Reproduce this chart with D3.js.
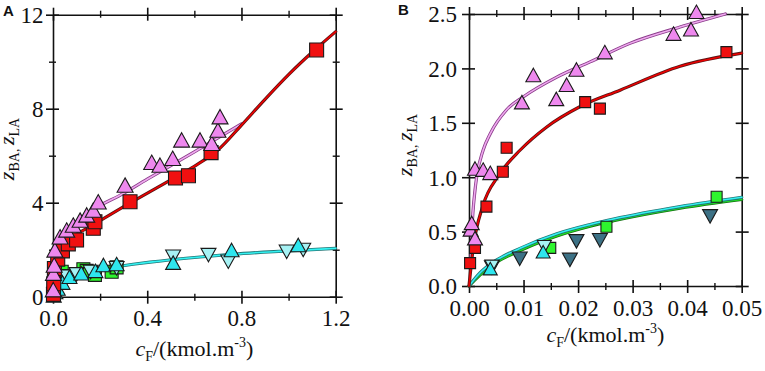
<!DOCTYPE html>
<html>
<head>
<meta charset="utf-8">
<script src="https://cdn.jsdelivr.net/npm/d3@7"></script>
</head>
<body style="margin:0">
<div id="chart"></div>
<script>
// ---------- panel A data (x = cF kmol/m3, y = z) ----------
const aRedSq = [[0.002,0.1],[0.003,0.55],[0.006,1.2],[0.02,1.6],[0.04,1.95],[0.065,2.25],[0.1,2.41],
  [0.171,2.91],[0.178,3.19],[0.327,4.04],[0.52,5.05],[0.575,5.15],[0.671,6.13],[1.119,10.5]];
const aPinkTri = [[0.001,0.3],[0.002,1.0],[0.005,1.35],[0.008,1.99],[0.03,2.55],[0.058,2.84],[0.086,3.05],
  [0.115,3.26],[0.143,3.48],[0.171,3.69],[0.192,4.04],[0.306,4.75],[0.419,5.72],[0.454,5.6],[0.508,5.89],
  [0.546,6.67],[0.624,6.67],[0.674,6.53],[0.70,7.09],[0.709,7.66]];
const aGreenSq = [[0.004,0.15],[0.012,0.45],[0.03,0.75],[0.037,1.06],[0.051,0.88],[0.129,1.17],[0.143,1.1],
  [0.178,0.93],[0.249,1.06],[0.27,1.25]];
const aCyanUp = [[0.003,0.05],[0.01,0.2],[0.02,0.35],[0.04,0.6],[0.07,0.85],[0.12,1.0],[0.18,1.1],
  [0.214,1.35],[0.27,1.39],[0.51,1.45],[0.758,1.99],[1.041,2.2]];
const aCyanDown = [[0.005,0.1],[0.015,0.3],[0.03,0.58],[0.058,0.85],[0.1,0.95],[0.16,1.05],[0.27,1.21],
  [0.51,1.7],[0.66,1.77],[0.744,1.49],[0.992,1.91],[1.062,1.99]];

// fitted curves
const aRedCurve = [[0.004,0],[0.008,0.5],[0.012,1.0],[0.02,1.45],[0.03,1.8],[0.044,2.13],[0.086,2.55],
  [0.157,2.98],[0.3,3.83],[0.5,4.97],[0.6,5.55],[0.7,6.24],[0.8,7.3],[0.9,8.4],[1.0,9.45],[1.1,10.4],[1.2,11.28]];
const aPinkCurve = [[0.0,0.3],[0.002,1.0],[0.006,1.5],[0.015,2.0],[0.03,2.35],[0.044,2.55],[0.086,3.05],
  [0.157,3.62],[0.3,4.4],[0.4,5.0],[0.5,5.58],[0.6,6.16],[0.7,6.76],[0.8,7.35]];
const aGreenCurve = [[0.0,0.0],[0.005,0.25],[0.015,0.5],[0.03,0.68],[0.072,0.95],[0.143,1.15],[0.2,1.22],[0.256,1.27]];
const aCyanCurve = [[0.0,0.0],[0.005,0.2],[0.015,0.45],[0.03,0.62],[0.058,0.8],[0.115,1.0],[0.2,1.17],
  [0.34,1.38],[0.412,1.47],[0.624,1.69],[0.766,1.81],[1.0,1.95],[1.2,2.06]];

// ---------- panel B data ----------
const bRedSq = [[0.0002,0.21],[0.0011,0.35],[0.0032,0.73],[0.0062,1.05],[0.0069,1.27],[0.0213,1.69],[0.024,1.63],[0.0472,2.15]];
const bPinkTri = [[0.0003,0.52],[0.0005,0.58],[0.0011,0.44],[0.0011,1.08],[0.0026,1.07],[0.0039,1.04],[0.0097,1.69],
  [0.0118,1.94],[0.016,1.72],[0.0179,1.85],[0.0197,1.99],[0.0249,2.15],[0.0375,2.32],[0.0407,2.36],[0.0417,2.52]];
const bGreenSq = [[0.0149,0.35],[0.0252,0.545],[0.0454,0.82]];
const bCyanUp = [[0.0039,0.16],[0.0136,0.315]];
const bCyanDown = [[0.0042,0.18],[0.0138,0.36]];
const bBlueDown = [[0.0042,0.17],[0.0093,0.25],[0.0185,0.24],[0.0197,0.41],[0.024,0.42],[0.0442,0.64]];

const bRedCurve = [[0,0],[0.0008,0.36],[0.0025,0.73],[0.0055,1.02],[0.0094,1.25],[0.0142,1.46],[0.0204,1.65],
  [0.0277,1.8],[0.0387,2.02],[0.05,2.14]];
const bPinkCurve = [[0.0003,0.2],[0.0005,0.48],[0.0011,0.88],[0.0014,1.0],[0.0026,1.25],[0.0039,1.4],[0.0069,1.62],
  [0.01,1.74],[0.0161,1.92],[0.0222,2.06],[0.0295,2.23],[0.0387,2.38],[0.047,2.5]];
const bGreenCurve = [[0,0],[0.002,0.1],[0.0039,0.18],[0.01,0.34],[0.0161,0.46],[0.0222,0.55],[0.0265,0.6],[0.0387,0.715],[0.05,0.795]];
const bCyanCurve = [[0,0],[0.002,0.12],[0.0039,0.2],[0.01,0.36],[0.0161,0.48],[0.0222,0.565],[0.0265,0.615],[0.0387,0.73],[0.05,0.815]];

// ticks
const aXMajor = [0, 0.4, 0.8, 1.2], aXMinor = [0.2, 0.6, 1.0];
const aYMajor = [0, 4, 8, 12], aYMinor = [2, 6, 10];
const bXMajor = [0, 0.01, 0.02, 0.03, 0.04, 0.05], bXMinor = [0.005, 0.015, 0.025, 0.035, 0.045];
const bYMajor = [0, 0.5, 1.0, 1.5, 2.0, 2.5];

const W = 765, H = 371;
const svg = d3.select("#chart").append("svg").attr("width", W).attr("height", H)
  .style("display", "block").style("background", "#fff");

// couleurs
const col = {
  red: "#f01010", pink: "#ee88ee", green: "#2ef52e", cyanUp: "#2ee6ee", cyanDown: "#a6f2f4", blue: "#3c7185"
};

function crossTicks(sel, dim, inner) {
  sel.selectAll(".tick line").attr(dim + "1", function () {
    const v = +d3.select(this).attr(dim + "2");
    return -Math.sign(v) * inner;
  });
}

function drawPanel(o) {
  const x = d3.scaleLinear().domain(o.xDom).range(o.xR);
  const y = d3.scaleLinear().domain(o.yDom).range(o.yR);
  const g = svg.append("g");

  const sides = [
    { ax: d3.axisBottom(x), tr: `translate(0,${o.yR[0]})`, dim: "y", maj: o.xMaj, min: o.xMin, lab: true },
    { ax: d3.axisTop(x), tr: `translate(0,${o.yR[1]})`, dim: "y", maj: o.xMaj, min: o.xMin, lab: false },
    { ax: d3.axisLeft(y), tr: `translate(${o.xR[0]},0)`, dim: "x", maj: o.yMaj, min: o.yMin, lab: true },
    { ax: d3.axisRight(y), tr: `translate(${o.xR[1]},0)`, dim: "x", maj: o.yMaj, min: o.yMin, lab: false }
  ];
  sides.forEach(s => {
    if (s.min.length) {
      const gm = g.append("g").attr("transform", s.tr)
        .call(s.ax.tickValues(s.min).tickFormat("").tickSize(4).tickSizeOuter(0));
      gm.select(".domain").remove();
      gm.selectAll("text").remove();
      crossTicks(gm, s.dim, 3);
      gm.selectAll("line").attr("stroke", "#111").attr("stroke-width", 1.4);
    }
    const ga = g.append("g").attr("transform", s.tr)
      .call(s.ax.tickValues(s.maj).tickSize(7).tickSizeOuter(0)
        .tickFormat(s.lab ? (s.dim === "y" ? o.xFmt : o.yFmt) : ""));
    crossTicks(ga, s.dim, 6);
    ga.select(".domain").attr("stroke", "#111").attr("stroke-width", 1.6);
    ga.selectAll(".tick line").attr("stroke", "#111").attr("stroke-width", 1.6);
    if (!s.lab) ga.selectAll("text").remove();
    ga.selectAll("text").attr("class", "num").attr("fill", "#111");
    if (s.lab && s.dim === "y") ga.selectAll("text").attr("y", 29.5).attr("dy", 0);
    if (s.lab && s.dim === "x") ga.selectAll("text").attr("x", -o.yLabGap).attr("dy", "0.34em");
  });

  // courbes (bord foncé + trait coloré)
  const line = d3.line().x(d => x(d[0])).y(d => y(d[1])).curve(d3.curveMonotoneX);
  o.curves.forEach(c => {
    g.append("path").datum(c.data).attr("d", line).attr("fill", "none")
      .attr("stroke", c.edge).attr("stroke-width", c.w + 1.6).attr("stroke-linecap", "round");
    g.append("path").datum(c.data).attr("d", line).attr("fill", "none")
      .attr("stroke", c.color).attr("stroke-width", c.w).attr("stroke-linecap", "round");
  });

  // symboles
  o.marks.forEach(m => {
    const s = m.size;
    const shape = m.type === "sq"
      ? `M${-s/2},${-s/2}h${s}v${s}h${-s}Z`
      : m.type === "up"
        ? `M0,${-s*0.45}L${s/2},${s*0.45}L${-s/2},${s*0.45}Z`
        : `M0,${s*0.45}L${s/2},${-s*0.45}L${-s/2},${-s*0.45}Z`;
    g.append("g").selectAll("path").data(m.data).join("path")
      .attr("d", shape)
      .attr("transform", d => `translate(${x(d[0])},${y(d[1])})`)
      .attr("fill", m.color).attr("stroke", "#1a1a1a").attr("stroke-width", 1.1);
  });

  // titre axe x
  const xt = svg.append("text").attr("class", "title").attr("x", (o.xR[0] + o.xR[1]) / 2).attr("y", o.xTitleY)
    .attr("text-anchor", "middle").attr("fill", "#111");
  xt.append("tspan").attr("font-style", "italic").text("c");
  xt.append("tspan").attr("font-size", 14).attr("dy", 5).text("F");
  xt.append("tspan").attr("dy", -5).text("/(kmol.m");
  xt.append("tspan").attr("font-size", 14).attr("dy", -9).text("-3");
  xt.append("tspan").attr("dy", 9).text(")");

  // titre axe y
  const yt = svg.append("text").attr("class", "title")
    .attr("transform", `translate(${o.yTitleX},${o.yTitleY}) rotate(-90)`)
    .attr("text-anchor", "middle").attr("fill", "#111");
  yt.append("tspan").attr("font-style", "italic").text("z");
  yt.append("tspan").attr("font-size", 14).attr("dy", 5).text("BA, ");
  yt.append("tspan").attr("dy", -5).attr("font-style", "italic").text("z");
  yt.append("tspan").attr("font-size", 14).attr("dy", 5).text("LA");

  svg.append("text").attr("class", "tag").attr("x", o.tag[0]).attr("y", o.tag[1]).text(o.tagText)
    .attr("fill", "#111");
}

drawPanel({
  xDom: [0, 1.2], yDom: [0, 12], xR: [53, 335.7], yR: [296.7, 14.7],
  xMaj: aXMajor, xMin: aXMinor, yMaj: aYMajor, yMin: aYMinor,
  xFmt: d3.format(".1f"), yFmt: d3.format("d"), yLabGap: 9.5,
  xTitleY: 356, yTitleX: 14, yTitleY: 149, tag: [3, 16], tagText: "A",
  curves: [
    { data: aGreenCurve, color: "#22dd22", edge: "#137013", w: 1.6 },
    { data: aCyanCurve, color: "#33f2f2", edge: "#227777", w: 1.6 },
    { data: aPinkCurve, color: "#eeaaee", edge: "#8a3a8a", w: 1.6 },
    { data: aRedCurve, color: "#ee0000", edge: "#5a1515", w: 1.6 }
  ],
  marks: [
    { data: aGreenSq, type: "sq", color: col.green, size: 13 },
    { data: aCyanDown, type: "down", color: col.cyanDown, size: 15 },
    { data: aCyanUp, type: "up", color: col.cyanUp, size: 15 },
    { data: aRedSq, type: "sq", color: col.red, size: 14 },
    { data: aPinkTri, type: "up", color: col.pink, size: 16 }
  ]
});

drawPanel({
  xDom: [0, 0.05], yDom: [0, 2.5], xR: [469, 741.7], yR: [286, 14],
  xMaj: bXMajor, xMin: bXMinor, yMaj: bYMajor, yMin: [],
  xFmt: d3.format(".2f"), yFmt: d3.format(".1f"), yLabGap: 12,
  xTitleY: 342, yTitleX: 412, yTitleY: 145, tag: [398, 15], tagText: "B",
  curves: [
    { data: bGreenCurve, color: "#22dd22", edge: "#137013", w: 1.6 },
    { data: bCyanCurve, color: "#33f2f2", edge: "#227777", w: 1.6 },
    { data: bPinkCurve, color: "#eeaaee", edge: "#8a3a8a", w: 1.6 },
    { data: bRedCurve, color: "#ee0000", edge: "#5a1515", w: 1.6 }
  ],
  marks: [
    { data: bBlueDown, type: "down", color: col.blue, size: 15 },
    { data: bGreenSq, type: "sq", color: col.green, size: 11 },
    { data: bCyanDown, type: "down", color: col.cyanDown, size: 14 },
    { data: bCyanUp, type: "up", color: col.cyanUp, size: 14 },
    { data: bRedSq, type: "sq", color: col.red, size: 11 },
    { data: bPinkTri, type: "up", color: col.pink, size: 15 }
  ]
});

// polices : appliquées à la fin, directement sur chaque texte
svg.selectAll("g").attr("font-family", null).attr("font-size", null);
svg.selectAll("text.num").style("font-family", d => `"Liberation Serif"`).style("font-size", d => "23px");
svg.selectAll("text.title").style("font-family", d => `"Liberation Serif"`).style("font-size", d => "22px");
svg.selectAll("text.tag").style("font-family", d => `"Liberation Sans"`).style("font-size", d => "15px")
  .style("font-weight", "bold");
</script>
</body>
</html>
